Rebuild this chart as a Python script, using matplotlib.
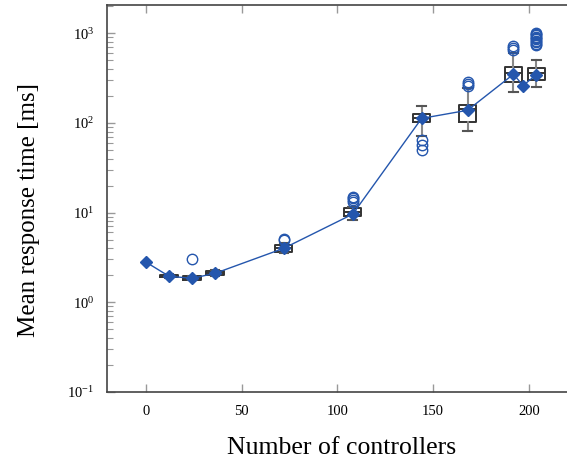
import matplotlib
matplotlib.use("Agg")
import matplotlib.pyplot as plt

# mean values per number of controllers
mean_x = [0, 12, 24, 36, 72, 108, 144, 168, 192, 197, 204]
mean_y = [2.8, 1.95, 1.85, 2.1, 4.0, 9.6, 112, 138, 348, 260, 345]

# box statistics
box_x = [12, 24, 36, 72, 108, 144, 168, 192, 204]
whislo = [1.86, 1.77, 1.98, 3.55, 8.2, 72, 82, 223, 253]
q1 = [1.89, 1.79, 2.02, 3.65, 9.1, 102, 102, 288, 300]
med = [1.95, 1.85, 2.12, 3.98, 10.2, 113, 142, 357, 357]
q3 = [2.03, 1.95, 2.25, 4.35, 11.2, 125, 158, 416, 405]
whishi = [2.06, 1.98, 2.30, 4.6, 11.6, 155, 246, 600, 500]
fliers = [
    [],
    [3.0],
    [],
    [4.9, 5.1],
    [13.2, 13.8, 14.5, 15.0],
    [50, 57, 65],
    [255, 270, 285],
    [640, 680, 710],
    [730, 760, 790, 820, 850, 880, 910, 940, 970, 1000],
]

plt.rcParams["font.family"] = ["Liberation Serif", "DejaVu Serif"]
plt.rcParams["mathtext.fontset"] = "stix"

blue = "#2456ad"

fig = plt.figure(figsize=[5.67, 4.63], dpi=100)
ax = fig.add_axes([0.1887, 0.1533, 0.8263, 0.8357])

stats = []
for i in range(len(box_x)):
    stats.append({
        "whislo": whislo[i], "q1": q1[i], "med": med[i], "q3": q3[i],
        "whishi": whishi[i], "fliers": fliers[i],
    })

ax.bxp(stats, positions=box_x, widths=9, showfliers=True, manage_ticks=False,
       boxprops=dict(color="#333333", linewidth=1.4),
       medianprops=dict(color="#333333", linewidth=1.4),
       whiskerprops=dict(color="#888888", linewidth=1.5),
       capprops=dict(color="#555555", linewidth=1.5),
       flierprops=dict(marker="o", markerfacecolor="none", markeredgecolor=blue,
                       markersize=7.5, markeredgewidth=1.0))

ax.plot(mean_x, mean_y, "-", color=blue, linewidth=1.0, marker="D",
        markersize=6.5, markerfacecolor=blue, markeredgecolor=blue, zorder=5)

ax.set_yscale("log")
ax.set_xlim(-20.4, 224.4)
ax.set_ylim(0.1, 2050)
ax.set_xticks([0, 50, 100, 150, 200])

for s in ax.spines.values():
    s.set_color("#444444")
    s.set_linewidth(1.2)
ax.tick_params(which="both", direction="in", top=True, right=True,
               color="#999999", labelsize=10.5, pad=9)
ax.tick_params(which="major", length=6, width=1.0)
ax.tick_params(which="minor", length=4, width=0.8)

ax.set_xlabel("Number of controllers", fontsize=18.5)
ax.set_ylabel("Mean response time [ms]", fontsize=18)
ax.xaxis.set_label_coords(0.5, -0.116)
ax.yaxis.set_label_coords(-0.143, 0.47)

fig.savefig("out.png", dpi=100)
